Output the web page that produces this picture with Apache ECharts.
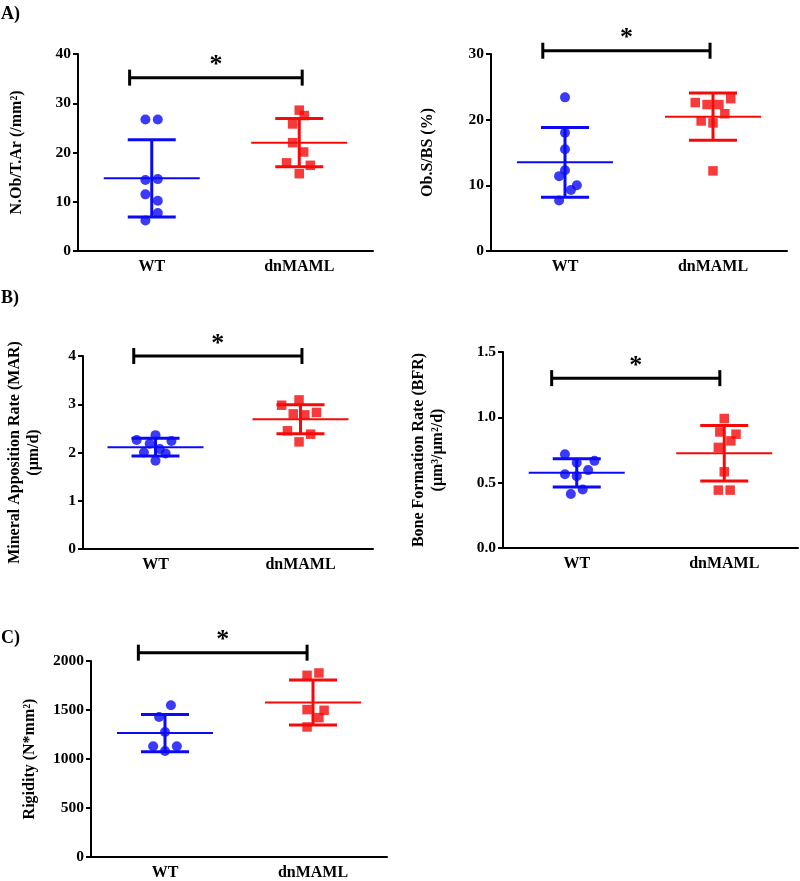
<!DOCTYPE html>
<html>
<head>
<meta charset="utf-8">
<script src="https://cdn.jsdelivr.net/npm/echarts@6/dist/echarts.min.js"></script>
<style>
html,body{margin:0;padding:0;background:#fff;}
#chart{width:800px;height:881px;}
</style>
</head>
<body>
<div id="chart"></div>
<script>
// ---------- DATA ----------
const categories = ['WT', 'dnMAML'];

// Panel A (left): N.Ob/T.Ar
const a1WT = [26.7, 26.7, 14.4, 14.6, 11.5, 10.2, 7.7, 6.2];
const a1WTJit = [-0.043, 0.041, -0.043, 0.041, -0.043, 0.041, 0.041, -0.043];
const a1KO = [28.6, 27.5, 25.8, 22.0, 20.1, 17.9, 17.4, 15.7];
const a1KOJit = [0, 0.034, -0.045, -0.045, 0.03, -0.086, 0.075, 0];
const a1Mean = [14.75, 22.0];
const a1SD = [7.85, 4.9];

// Panel A (right): Ob.S/BS
const a2WT = [23.4, 18.0, 15.5, 12.3, 11.4, 10.0, 9.3, 7.7];
const a2WTJit = [0, 0, 0, 0, -0.04, 0.08, 0.04, -0.04];
const a2KO = [22.6, 22.3, 22.3, 23.2, 20.9, 19.8, 19.5, 12.2];
const a2KOJit = [-0.12, -0.04, 0.04, 0.12, 0.08, -0.08, 0, 0];
const a2Mean = [13.5, 20.45];
const a2SD = [5.3, 3.6];

// Panel B (left): MAR
const b1WT = [2.36, 2.26, 2.24, 2.18, 2.00, 2.07, 1.98, 1.83];
const b1WTJit = [0, -0.13, 0.11, -0.04, -0.08, 0.03, 0.07, 0];
const b1KO = [2.98, 3.09, 2.80, 2.78, 2.83, 2.45, 2.38, 2.22];
const b1KOJit = [-0.13, -0.01, -0.05, 0.03, 0.11, -0.09, 0.07, -0.01];
const b1Mean = [2.11, 2.69];
const b1SD = [0.185, 0.30];

// Panel B (right): BFR
const b2WT = [0.718, 0.652, 0.667, 0.596, 0.565, 0.55, 0.448, 0.413];
const b2WTJit = [-0.08, 0, 0.12, 0.077, -0.08, 0, 0.04, -0.04];
const b2KO = [0.991, 0.888, 0.871, 0.82, 0.77, 0.583, 0.443, 0.443];
const b2KOJit = [0, -0.03, 0.08, 0.045, -0.04, 0, -0.04, 0.04];
const b2Mean = [0.575, 0.725];
const b2SD = [0.108, 0.213];

// Panel C: Rigidity
const cWT = [1548, 1429, 1276, 1130, 1130, 1082];
const cWTJit = [0.04, -0.04, 0, -0.08, 0.08, 0];
const cKO = [1854, 1878, 1504, 1497, 1422, 1327];
const cKOJit = [-0.04, 0.04, -0.04, 0.075, 0.04, -0.04];
const cMean = [1265, 1577];
const cSD = [190, 230];

// y axes
const yMax = [40, 30, 4, 1.5, 2000];
const yInterval = [10, 10, 1, 0.5, 500];
const yTitles = ['N.Ob/T.Ar (/mm²)', 'Ob.S/BS (%)', 'Mineral Apposition Rate (MAR)\n(μm/d)', 'Bone Formation Rate (BFR)\n(μm³/μm²/d)', 'Rigidity (N*mm²)'];

// significance bars
const sigY = [35.2, 30.5, 4.0, 1.30, 2085];
const sigX1 = [0.35, 0.35, 0.35, 0.33, 0.32];
const sigX2 = [1.52, 1.48, 1.51, 1.47, 1.46];
const sigText = ['*', '*', '*', '*', '*'];

const panelLetters = ['A)', 'B)', 'C)'];

// ---------- LAYOUT / STYLE ----------
const BLUE = '#0a0af5';
const RED = '#f50a0a';
const FONT = '"Liberation Serif", "Times New Roman", serif';
const grids = [
  {left: 78, top: 54, width: 295, height: 197},
  {left: 491, top: 54, width: 296, height: 197},
  {left: 83, top: 356, width: 290, height: 193},
  {left: 503, top: 352, width: 295, height: 196},
  {left: 91, top: 661, width: 296, height: 196}
];
const nameGaps = [52, 54, 40, 56, 52];

const panels = [
  [a1WT, a1WTJit, a1KO, a1KOJit, a1Mean, a1SD],
  [a2WT, a2WTJit, a2KO, a2KOJit, a2Mean, a2SD],
  [b1WT, b1WTJit, b1KO, b1KOJit, b1Mean, b1SD],
  [b2WT, b2WTJit, b2KO, b2KOJit, b2Mean, b2SD],
  [cWT, cWTJit, cKO, cKOJit, cMean, cSD]
];

const xAxes = [], yAxes = [], series = [];
grids.forEach(function (g, i) {
  xAxes.push({
    type: 'category', gridIndex: i, data: categories, boundaryGap: true,
    axisLine: {lineStyle: {color: '#000', width: 2}},
    axisTick: {alignWithLabel: true, length: 5, lineStyle: {color: '#000', width: 2}},
    axisLabel: {color: '#000', fontFamily: FONT, fontWeight: 'bold', fontSize: 16, margin: 8},
    splitLine: {show: false}
  });
  xAxes.push({type: 'value', gridIndex: i, min: 0, max: 2, show: false});
  yAxes.push({
    type: 'value', gridIndex: i, min: 0, max: yMax[i], interval: yInterval[i],
    name: yTitles[i], nameLocation: 'middle', nameGap: nameGaps[i], nameRotate: 90,
    nameTextStyle: {color: '#000', fontFamily: FONT, fontWeight: 'bold', fontSize: 16, lineHeight: 19},
    axisLine: {show: true, lineStyle: {color: '#000', width: 2}},
    axisTick: {show: true, length: 5, lineStyle: {color: '#000', width: 2}},
    axisLabel: {color: '#000', fontFamily: FONT, fontWeight: 'bold', fontSize: 15.5, margin: 7,
      formatter: function (v) { return i === 3 ? v.toFixed(1) : String(v); }},
    splitLine: {show: false}
  });
  const p = panels[i];
  const xi = 2 * i + 1;
  series.push({
    type: 'scatter', xAxisIndex: xi, yAxisIndex: i, symbol: 'circle', symbolSize: 10,
    itemStyle: {color: BLUE}, z: 2,
    data: p[0].map(function (v, k) { return [0.5 + p[1][k], v]; })
  });
  series.push({
    type: 'scatter', xAxisIndex: xi, yAxisIndex: i, symbol: 'rect', symbolSize: 9.5,
    itemStyle: {color: RED}, z: 2,
    data: p[2].map(function (v, k) { return [1.5 + p[3][k], v]; })
  });
  series.push({
    type: 'custom', xAxisIndex: xi, yAxisIndex: i, z: 3,
    data: [[0.5, p[4][0], p[5][0]], [1.5, p[4][1], p[5][1]]],
    renderItem: function (params, api) {
      const x = api.value(0), m = api.value(1), s = api.value(2);
      const c = api.coord([x, m]);
      const t = api.coord([x, m + s]);
      const b = api.coord([x, m - s]);
      const col = params.dataIndex === 0 ? BLUE : RED;
      return {type: 'group', children: [
        {type: 'line', shape: {x1: c[0], y1: t[1], x2: c[0], y2: b[1]}, style: {stroke: col, lineWidth: 3}},
        {type: 'line', shape: {x1: c[0] - 24, y1: t[1], x2: c[0] + 24, y2: t[1]}, style: {stroke: col, lineWidth: 3}},
        {type: 'line', shape: {x1: c[0] - 24, y1: b[1], x2: c[0] + 24, y2: b[1]}, style: {stroke: col, lineWidth: 3}},
        {type: 'line', shape: {x1: c[0] - 48, y1: c[1], x2: c[0] + 48, y2: c[1]}, style: {stroke: col, lineWidth: 2}}
      ]};
    }
  });
  series.push({
    type: 'custom', xAxisIndex: xi, yAxisIndex: i, z: 4, clip: false,
    data: [[sigX1[i], sigX2[i], sigY[i]]],
    renderItem: function (params, api) {
      const l = api.coord([api.value(0), api.value(2)]);
      const r = api.coord([api.value(1), api.value(2)]);
      return {type: 'group', children: [
        {type: 'line', shape: {x1: l[0], y1: l[1], x2: r[0], y2: r[1]}, style: {stroke: '#000', lineWidth: 3}},
        {type: 'line', shape: {x1: l[0], y1: l[1] - 8, x2: l[0], y2: l[1] + 8}, style: {stroke: '#000', lineWidth: 3}},
        {type: 'line', shape: {x1: r[0], y1: r[1] - 8, x2: r[0], y2: r[1] + 8}, style: {stroke: '#000', lineWidth: 3}},
        {type: 'text', x: (l[0] + r[0]) / 2, y: l[1] - 12,
          style: {text: sigText[i], fill: '#000', font: 'bold 26px ' + FONT, align: 'center', verticalAlign: 'middle'}}
      ]};
    }
  });
});

const chart = echarts.init(document.getElementById('chart'), null, {renderer: 'canvas'});
chart.setOption({
  backgroundColor: '#fff',
  animation: false,
  grid: grids,
  xAxis: xAxes,
  yAxis: yAxes,
  series: series,
  graphic: [
    {type: 'text', left: 1, top: 5, style: {text: panelLetters[0], fill: '#000', font: 'bold 18px ' + FONT}},
    {type: 'text', left: 1, top: 289, style: {text: panelLetters[1], fill: '#000', font: 'bold 18px ' + FONT}},
    {type: 'text', left: 1, top: 629, style: {text: panelLetters[2], fill: '#000', font: 'bold 18px ' + FONT}}
  ]
});
</script>
</body>
</html>
